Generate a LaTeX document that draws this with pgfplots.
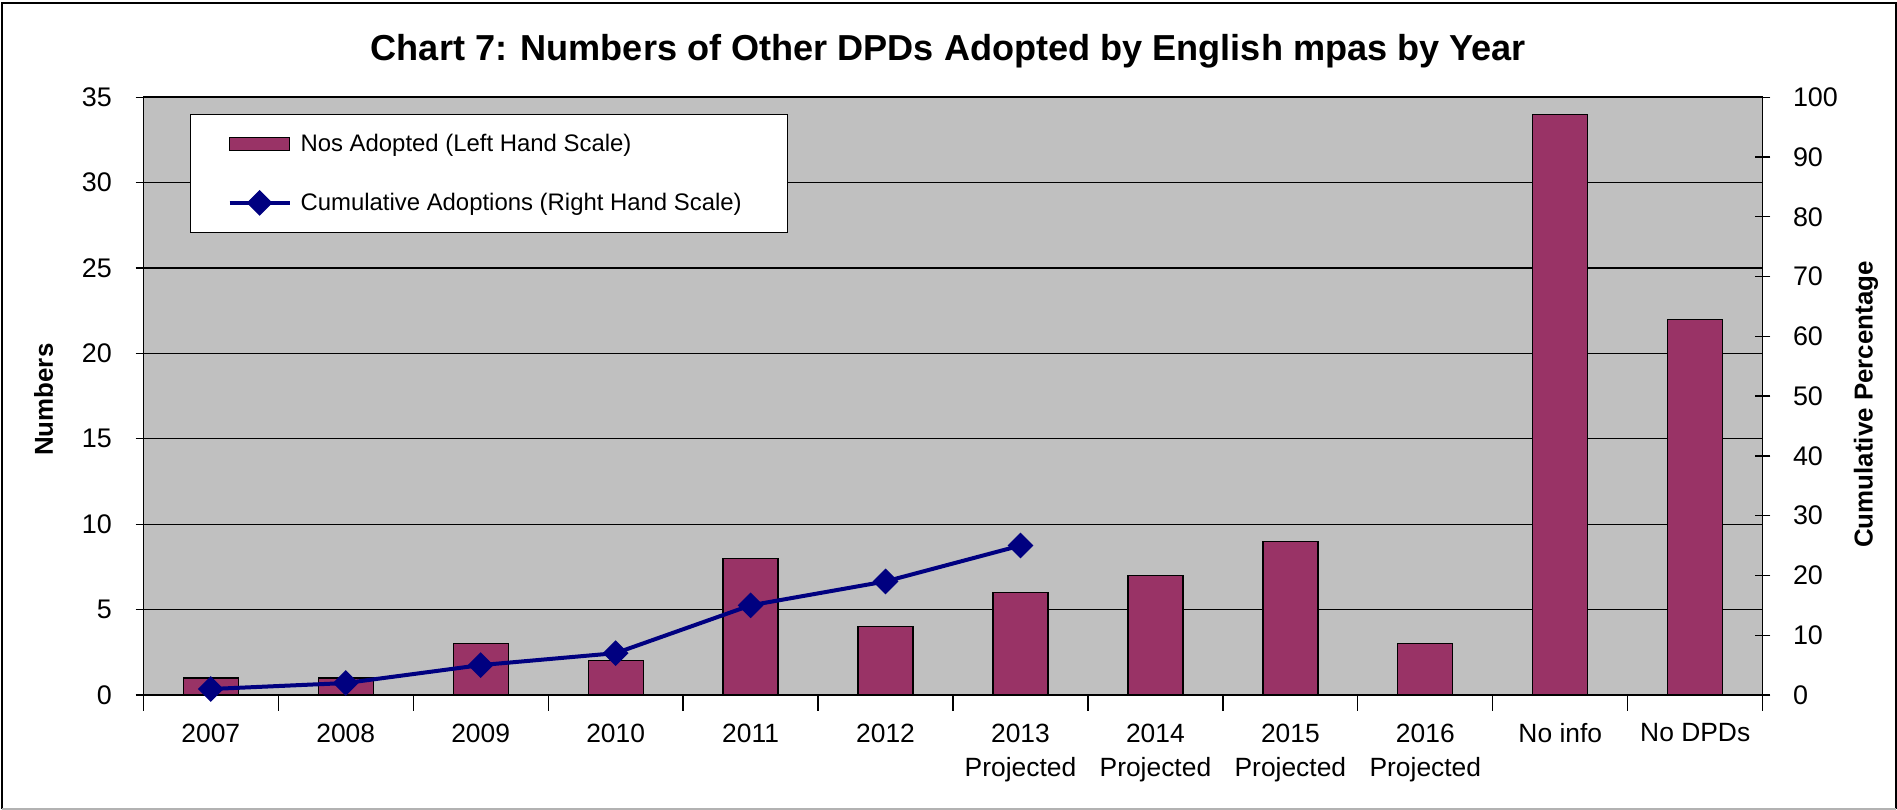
\documentclass[border=0pt]{standalone}
\usepackage{pgfplots}
\pgfplotsset{compat=1.18}
\usepackage{fontspec}
\setmainfont{Liberation Sans}

\definecolor{barplum}{HTML}{993366}
\definecolor{plotgray}{HTML}{C0C0C0}
\definecolor{linenavy}{HTML}{000080}

\pgfplotsset{
  barlegend/.style={legend image code/.code={\draw[##1] (0bp,-2.6bp) rectangle (24bp,2.6bp);}},
  linelegend/.style={legend image code/.code={\draw[##1,mark repeat=2,mark phase=2] plot coordinates {(0bp,0bp) (12bp,0bp) (24bp,0bp)};}},
  common/.style={
    at={(0,0)}, anchor=south west,
    scale only axis, width=647.76bp, height=239.1bp,
    xmin=-0.5, xmax=11.5,
    tick align=center,
    major tick length=6.2bp,
    tick style={black, line width=0.5bp},
    /pgf/number format/assume math mode=true,
    yticklabel style={font=\fontsize{10.8}{13}\selectfont},
    ylabel style={font=\bfseries\fontsize{10.4}{12}\selectfont, anchor=center},
  },
}

\begin{document}
\begin{tikzpicture}
\useasboundingbox (-57.32bp,-46bp) rectangle (701.48bp,278bp);

% bars, left scale
\begin{axis}[
  common,
  ybar, bar width=22bp,
  ymin=0, ymax=35, ytick={0,5,...,35},
  ytick pos=left, xtick pos=bottom,
  xtick={-0.5,0.5,...,11.5},
  xticklabels={{},{},{},{},{},{},{},{},{},{},{},{},{}},
  extra x ticks={0,...,11},
  extra x tick labels={2007,2008,2009,2010,2011,2012,{2013\\Projected},{2014\\Projected},{2015\\Projected},{2016\\Projected},No info,No DPDs},
  extra x tick style={major tick length=0pt, tick style={draw=none}},
  xticklabel style={align=center, font=\fontsize{10.6}{13.6}\selectfont},
  xticklabel shift=8bp,
  yticklabel shift=6bp,
  axis background/.style={fill=plotgray},
  ymajorgrids, grid style={black, line width=0.45bp},
  axis line style={line width=0.6bp},
  ylabel={Numbers},
  ylabel style={at={(axis description cs:-0.0616,0.494)}},
  title={Chart 7: Numbers of Other DPDs Adopted by English mpas by Year},
  title style={at={(axis description cs:0.4972,1.036)}, anchor=base, font=\bfseries\fontsize{14.5}{17}\selectfont},
]
\addplot[fill=barplum, draw=black, line width=0.5bp] coordinates {
  (0,1) (1,1) (2,3) (3,2) (4,8) (5,4) (6,6) (7,7) (8,9) (9,3) (10,34) (11,22)
};
\end{axis}

% cumulative line, right scale
\begin{axis}[
  common,
  axis x line=none, axis y line*=right,
  ymin=0, ymax=100, ytick={0,10,...,100},
  yticklabel shift=5.5bp,
  axis line style={line width=0.6bp},
  clip=false,
  ylabel={Cumulative Percentage},
  ylabel style={at={(axis description cs:1.0638,0.486)}},
  legend style={
    at={(axis description cs:0.0288,0.972)}, anchor=north west,
    draw=black, line width=0.5bp, fill=white,
    inner xsep=14.8bp, inner ysep=6.9bp,
    row sep=13.4bp,
    font=\fontsize{9.6}{12}\selectfont,
    nodes={inner ysep=0pt, inner xsep=3.6bp, text height=8bp, text depth=2bp},
  },
  legend cell align=left,
]
\addlegendimage{barlegend, fill=barplum, draw=black, line width=0.5bp}
\addlegendentry{Nos Adopted (Left Hand Scale)}
\addplot[color=linenavy, line width=1.6bp, mark=square*, mark size=3.4bp,
  mark options={rotate=45, solid, fill=linenavy, line width=0.5bp}, linelegend] coordinates {
  (0,1) (1,2) (2,5) (3,7) (4,15) (5,19) (6,25)
};
\addlegendentry{Cumulative Adoptions (Right Hand Scale)}
\end{axis}

\draw[line width=0.8bp] (-56.5bp,-45.6bp) -- (-56.5bp,276.8bp) -- (701.1bp,276.8bp) -- (701.1bp,-45.6bp);
\draw[black!30, line width=0.5bp] (-56.5bp,-45.6bp) -- (701.1bp,-45.6bp);
\end{tikzpicture}
\end{document}
